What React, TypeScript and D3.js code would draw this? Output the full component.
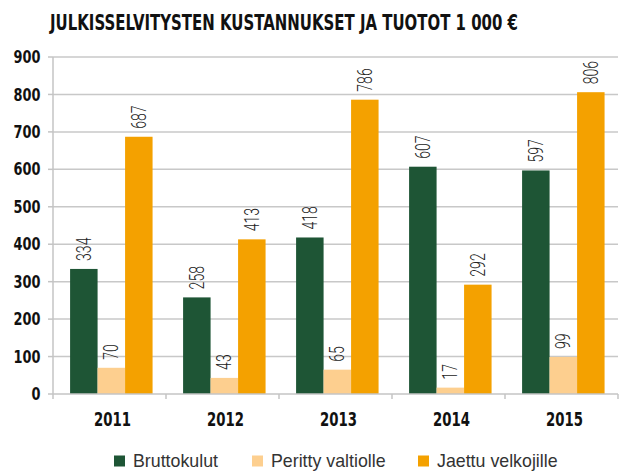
import React from 'react'
import * as d3 from 'd3'

const years = ['2011', '2012', '2013', '2014', '2015']
const seriesNames = ['Bruttokulut', 'Peritty valtiolle', 'Jaettu velkojille']
const bruttokulut = [334, 258, 418, 607, 597]
const perittyValtiolle = [70, 43, 65, 17, 99]
const jaettuVelkojille = [687, 413, 786, 292, 806]
const yTicks = [0, 100, 200, 300, 400, 500, 600, 700, 800, 900]
const colors = ['#1e5535', '#fdcf8f', '#f4a100']

const seriesValues = [bruttokulut, perittyValtiolle, jaettuVelkojille]

const width = 622
const height = 473
const margin = { top: 57, right: 4, bottom: 79, left: 53 }

const boldFont = '"DejaVu Sans", sans-serif'
const lightFont = 'Roboto, "DejaVu Sans", sans-serif'

export default function App() {
  const plotRight = width - margin.right
  const plotBottom = height - margin.bottom

  const x = d3.scaleBand().domain(years).range([margin.left, plotRight]).padding(0)
  const inner = d3.scaleBand()
    .domain(seriesNames)
    .range([0, x.bandwidth()])
    .paddingInner(0)
    .paddingOuter(0.555)
    .align(0.56)
  const y = d3.scaleLinear().domain([0, 900]).range([plotBottom, margin.top])

  const legendX = [114, 252, 418]

  return (
    <svg width={width} height={height}
      style={{ position: 'absolute', left: 0, top: 0, background: '#fff' }}>
      <text transform='translate(284,29.5) scale(0.68,1)' textAnchor='middle'
        fontFamily={boldFont} fontWeight='bold' fontSize={22} fill='#111'>
        JULKISSELVITYSTEN KUSTANNUKSET JA TUOTOT 1 000 €
      </text>

      {/* gridlines */}
      {yTicks.filter(t => t > 0).map(t => (
        <line key={t} x1={margin.left} x2={plotRight} y1={y(t)} y2={y(t)}
          stroke='#c8c8c8' strokeWidth={1.5} />
      ))}

      {/* y axis */}
      <line x1={margin.left} x2={margin.left} y1={margin.top} y2={plotBottom}
        stroke='#c4c4c4' strokeWidth={1.5} />
      {yTicks.map(t => (
        <g key={t}>
          <line x1={margin.left - 5} x2={margin.left} y1={y(t)} y2={y(t)}
            stroke='#c4c4c4' strokeWidth={1.5} />
          <text transform={`translate(40.5,${y(t)}) scale(0.76,1)`} dy='0.36em' textAnchor='end'
            fontFamily={boldFont} fontWeight='bold' fontSize={17} fill='#111'>
            {t}
          </text>
        </g>
      ))}

      {/* bars */}
      {seriesValues.map((vals, si) => (
        <g key={si}>
          {vals.map((v, i) => {
            const bx = (x(years[i]) ?? 0) + (inner(seriesNames[si]) ?? 0)
            return (
              <rect key={i} x={bx} y={y(v)} width={inner.bandwidth()}
                height={y(0) - y(v)} fill={colors[si]} />
            )
          })}
        </g>
      ))}

      {/* value labels */}
      {seriesValues.map((vals, si) => (
        <g key={si}>
          {vals.map((v, i) => {
            const cx = (x(years[i]) ?? 0) + (inner(seriesNames[si]) ?? 0) + inner.bandwidth() / 2
            const ty = y(v) - 8
            return (
              <text key={i} transform={`translate(${cx},${ty}) rotate(-90) scale(0.72,1)`}
                dy='0.36em' textAnchor='start'
                fontFamily={lightFont} fontWeight={300} fontSize={19.5} fill='#222'>
                {v}
              </text>
            )
          })}
        </g>
      ))}

      {/* x axis */}
      <line x1={margin.left} x2={plotRight} y1={plotBottom} y2={plotBottom}
        stroke='#c4c4c4' strokeWidth={1.5} />
      {years.map(yr => (
        <line key={yr} x1={(x(yr) ?? 0) + x.bandwidth()} x2={(x(yr) ?? 0) + x.bandwidth()}
          y1={plotBottom} y2={plotBottom + 5} stroke='#c4c4c4' strokeWidth={1.5} />
      ))}
      <line x1={margin.left} x2={margin.left} y1={plotBottom} y2={plotBottom + 5}
        stroke='#c4c4c4' strokeWidth={1.5} />
      {years.map(yr => (
        <text key={yr} transform={`translate(${(x(yr) ?? 0) + x.bandwidth() / 2 + 3},426) scale(0.7,1)`}
          textAnchor='middle'
          fontFamily={boldFont} fontWeight='bold' fontSize={19} fill='#111'>
          {yr}
        </text>
      ))}

      {/* legend */}
      {seriesNames.map((name, si) => (
        <g key={name} transform={`translate(${legendX[si]},455.5)`}>
          <rect x={0} y={0} width={11} height={11} fill={colors[si]} />
          <text x={19} y={11.5} fontFamily='"Liberation Sans", Arial, sans-serif'
            fontSize={17.8} fill='#333'>
            {name}
          </text>
        </g>
      ))}
    </svg>
  )
}
